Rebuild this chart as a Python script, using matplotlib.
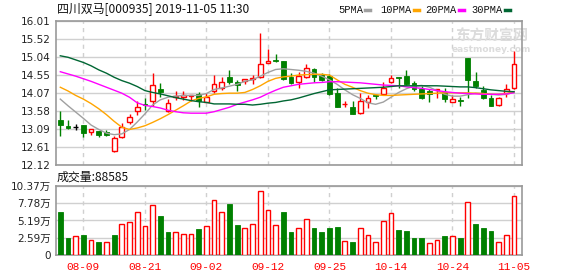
import matplotlib
matplotlib.use("Agg")
import matplotlib.pyplot as plt
import numpy as np

plt.rcParams['font.family'] = ['DejaVu Sans', 'Noto Sans CJK SC']

# trading days shown (2019-08-06 .. 2019-11-05)
dates = ['08-06', '08-07', '08-08', '08-09', '08-12', '08-13', '08-14', '08-15', '08-16', '08-19',
         '08-20', '08-21', '08-22', '08-23', '08-26', '08-27', '08-28', '08-29', '08-30',
         '09-02', '09-03', '09-04', '09-05', '09-06', '09-09', '09-10', '09-11', '09-12',
         '09-16', '09-17', '09-18', '09-19', '09-20', '09-23', '09-24', '09-25', '09-26',
         '09-27', '09-30', '10-08', '10-09', '10-10', '10-11', '10-14', '10-15', '10-16',
         '10-17', '10-18', '10-21', '10-22', '10-23', '10-24', '10-25', '10-28', '10-29',
         '10-30', '10-31', '11-01', '11-04', '11-05']
tick_dates = ['08-09', '08-21', '09-02', '09-12', '09-25', '10-14', '10-24', '11-05']

opens = [13.33, 13.18, 13.15, 13.19, 13.00, 13.05, 13.00, 12.50, 12.88, 13.28,
         13.59, 13.78, 13.85, 14.18, 13.57, 13.95, 13.97, 13.98, 14.03, 13.82,
         14.11, 14.20, 14.49, 14.36, 14.39, 14.43, 14.51, 14.88, 14.96, 14.93,
         14.51, 14.35, 14.49, 14.71, 14.57, 14.53, 14.07, 13.76, 13.68, 13.52,
         13.81, 14.00, 14.04, 14.35, 14.50, 14.52, 14.34, 14.17, 14.12, 14.14,
         14.08, 13.82, 13.87, 15.01, 14.40, 14.14, 13.94, 13.74, 14.06, 14.19]
highs = [13.58, 13.34, 13.22, 13.19, 13.09, 13.05, 13.07, 12.89, 13.25, 13.51,
         13.86, 13.92, 14.60, 14.33, 13.90, 14.12, 14.13, 14.01, 14.10, 14.07,
         14.56, 14.51, 14.69, 14.42, 14.45, 14.56, 15.68, 15.25, 15.11, 14.93,
         14.60, 14.62, 14.85, 14.75, 14.60, 14.57, 14.19, 13.85, 13.85, 14.06,
         14.01, 14.04, 14.35, 14.55, 14.50, 14.69, 14.39, 14.26, 14.17, 14.17,
         14.19, 14.00, 13.96, 15.01, 14.64, 14.26, 14.01, 13.97, 14.31, 15.20]
lows = [12.89, 13.10, 13.07, 12.88, 12.93, 12.88, 12.89, 12.46, 12.84, 13.23,
        13.47, 13.61, 13.72, 13.97, 13.54, 13.88, 13.88, 13.86, 13.68, 13.81,
        14.06, 14.15, 14.30, 14.12, 14.30, 14.30, 14.48, 14.87, 14.90, 14.42,
        14.30, 14.21, 14.46, 14.37, 14.40, 14.01, 13.70, 13.70, 13.51, 13.50,
        13.67, 13.89, 14.01, 14.33, 14.21, 14.28, 14.12, 13.89, 13.83, 13.94,
        13.81, 13.82, 13.72, 13.92, 14.21, 13.89, 13.71, 13.72, 13.97, 14.17]
closes = [13.19, 13.13, 13.15, 12.99, 13.09, 12.92, 12.93, 12.86, 13.15, 13.43,
          13.68, 13.75, 14.28, 14.10, 13.79, 13.99, 14.00, 14.01, 13.86, 13.95,
          14.30, 14.37, 14.35, 14.29, 14.44, 14.47, 14.84, 14.93, 14.94, 14.45,
          14.33, 14.52, 14.73, 14.51, 14.42, 14.03, 13.70, 13.78, 13.51, 13.84,
          13.94, 13.99, 14.19, 14.48, 14.46, 14.31, 14.16, 13.94, 14.05, 14.17,
          13.89, 13.90, 13.85, 14.41, 14.25, 13.92, 13.72, 13.94, 14.16, 14.84]

ma5 = [13.90, 13.72, 13.55, 13.38, 13.20, 13.08, 12.98, 12.94, 12.96, 13.08,
       13.28, 13.50, 13.74, 13.88, 13.95, 13.98, 14.00, 14.00, 14.00, 14.05,
       14.16, 14.20, 14.25, 14.30, 14.38, 14.42, 14.52, 14.62, 14.70, 14.72,
       14.70, 14.68, 14.65, 14.60, 14.52, 14.42, 14.30, 14.15, 14.02, 13.92,
       13.80, 13.76, 13.82, 13.95, 14.08, 14.18, 14.25, 14.27, 14.22, 14.13,
       14.03, 13.98, 13.98, 14.02, 14.06, 14.05, 14.03, 14.01, 14.03, 14.10]
ma10 = [14.22, 14.12, 14.00, 13.90, 13.78, 13.64, 13.48, 13.30, 13.14, 13.08,
        13.12, 13.18, 13.27, 13.37, 13.48, 13.60, 13.72, 13.85, 13.92, 13.96,
        14.03, 14.05, 14.06, 14.06, 14.08, 14.16, 14.26, 14.38, 14.46, 14.50,
        14.52, 14.55, 14.56, 14.57, 14.57, 14.55, 14.42, 14.30, 14.22, 14.13,
        14.06, 14.02, 14.00, 14.00, 14.01, 14.02, 14.03, 14.04, 14.05, 14.06,
        14.07, 14.07, 14.07, 14.07, 14.06, 14.05, 14.03, 14.03, 14.05, 14.10]
ma20 = [14.64, 14.58, 14.52, 14.45, 14.38, 14.30, 14.22, 14.14, 14.06, 13.95,
        13.80, 13.73, 13.70, 13.66, 13.60, 13.56, 13.53, 13.52, 13.52, 13.52,
        13.56, 13.62, 13.68, 13.76, 13.82, 13.88, 13.95, 14.05, 14.14, 14.22,
        14.26, 14.30, 14.32, 14.34, 14.35, 14.37, 14.37, 14.36, 14.35, 14.34,
        14.32, 14.30, 14.28, 14.27, 14.26, 14.23, 14.21, 14.19, 14.16, 14.13,
        14.10, 14.08, 14.06, 14.05, 14.04, 14.03, 14.03, 14.03, 14.04, 14.07]
ma30 = [15.07, 15.03, 14.96, 14.89, 14.80, 14.69, 14.60, 14.49, 14.40, 14.33,
        14.24, 14.13, 14.08, 14.04, 13.99, 13.94, 13.90, 13.86, 13.83, 13.81,
        13.77, 13.77, 13.77, 13.76, 13.76, 13.74, 13.76, 13.79, 13.81, 13.85,
        13.88, 13.93, 13.99, 14.05, 14.10, 14.15, 14.16, 14.17, 14.18, 14.19,
        14.20, 14.21, 14.22, 14.24, 14.26, 14.26, 14.26, 14.26, 14.26, 14.26,
        14.25, 14.24, 14.23, 14.23, 14.21, 14.18, 14.15, 14.13, 14.11, 14.10]

# volume in 万 (10k shares)
volumes = [6.46, 2.56, 2.80, 3.00, 2.20, 1.95, 1.90, 3.00, 4.66, 4.90,
           6.40, 4.30, 7.46, 5.86, 3.46, 3.40, 3.16, 3.16, 3.90, 4.30,
           8.20, 6.40, 7.67, 4.50, 4.00, 4.60, 9.57, 6.70, 4.46, 6.46,
           3.46, 4.00, 5.36, 4.06, 3.46, 4.06, 4.20, 2.05, 1.95, 4.00,
           2.96, 1.90, 5.06, 6.26, 3.76, 3.60, 2.56, 2.56, 1.75, 2.20,
           2.86, 2.80, 2.56, 7.90, 4.66, 4.06, 3.60, 1.90, 2.96, 8.86]
vol_up = [0, 0, 1, 0, 1, 0, 1, 0, 1, 1, 1, 1, 1, 0, 0, 1, 1, 1, 0, 1,
          1, 1, 0, 0, 1, 1, 1, 1, 1, 0, 0, 1, 1, 0, 0, 0, 0, 1, 0, 1,
          1, 1, 1, 1, 0, 0, 0, 0, 1, 1, 0, 1, 0, 1, 0, 0, 0, 1, 1, 1]

price_ticks = [12.12, 12.61, 13.09, 13.58, 14.07, 14.55, 15.04, 15.52, 16.01]
vol_ticks = [0, 2.59, 5.19, 7.78, 10.37]
vol_labels = ['0', '2.59万', '5.19万', '7.78万', '10.37万']

RED = '#ff0000'
GREEN = '#008000'
GRID = '#d0d0d0'
FRAME = '#999999'

W, H = 578, 276
fig = plt.figure(figsize=(W / 100, H / 100), dpi=100)
fig.patch.set_facecolor('white')

def box(x0, y0, x1, y1):
    return [x0 / W, 1 - y1 / H, (x1 - x0) / W, (y1 - y0) / H]

ax = fig.add_axes(box(56, 21, 522, 165))
axv = fig.add_axes(box(56, 186, 522, 255))

x = np.arange(len(dates))
xlim = (-0.56, 60.04)
tick_pos = [dates.index(d) for d in tick_dates]

for a, yt, ylim in ((ax, price_ticks, (12.12, 16.01)), (axv, vol_ticks, (0, 10.37))):
    a.set_xlim(*xlim)
    a.set_ylim(*ylim)
    a.set_yticks(yt)
    for y in yt:
        a.axhline(y, color=GRID, lw=1, zorder=0)
    for p in tick_pos:
        a.axvline(p, color=GRID, lw=1, ls=(0, (3, 3)), zorder=0)
    for s in a.spines.values():
        s.set_color(FRAME)
        s.set_linewidth(1.2)
    a.tick_params(length=0, labelsize=7.5, colors='#222222', pad=4)
    a.set_xticks(tick_pos)

ax.set_xticklabels([])
ax.set_yticklabels(['%.2f' % v for v in price_ticks])
axv.set_yticklabels(vol_labels)
axv.set_xticklabels(tick_dates, color=RED, family='Liberation Mono', fontsize=8)
axv.tick_params(axis='x', pad=5)

# watermark inside the price panel
cjk = ['Noto Sans CJK SC', 'DejaVu Sans']
ax.text(0.935, 0.9, '东方财富网', transform=ax.transAxes, family=cjk, fontsize=10.5,
        fontweight='bold', color='#dcdcdc', ha='center', va='center', zorder=1)
ax.text(0.935, 0.8, 'eastmoney.com', transform=ax.transAxes, fontsize=6.5,
        fontweight='bold', color='#dcdcdc', ha='center', va='center', zorder=1)

# candles
o = np.array(opens); c = np.array(closes)
hi = np.array(highs); lo = np.array(lows)
bw = 0.62
for i in range(len(x)):
    if c[i] > o[i]:
        col = RED
    elif c[i] < o[i]:
        col = GREEN
    else:
        col = 'black'
    ax.vlines(x[i], lo[i], hi[i], color=col, lw=1, zorder=2)
    bottom = min(o[i], c[i])
    height = max(abs(c[i] - o[i]), 0.012)
    if col == RED:
        ax.bar(x[i], height, bw, bottom=bottom, facecolor='white', edgecolor=RED, lw=1, zorder=3)
    elif col == GREEN:
        ax.bar(x[i], height, bw, bottom=bottom, facecolor=GREEN, edgecolor=GREEN, lw=0.6, zorder=3)
    else:
        ax.hlines(o[i], x[i] - bw / 2, x[i] + bw / 2, color=col, lw=1, zorder=3)

ax.plot(x, ma5, color='#a0a0a0', lw=1, zorder=4)
ax.plot(x, ma10, color='#ffa500', lw=1, zorder=4)
ax.plot(x, ma20, color='#ff00ff', lw=1, zorder=4)
ax.plot(x, ma30, color='#006633', lw=1, zorder=4)

# volume bars
for i in range(len(x)):
    if vol_up[i]:
        axv.bar(x[i], volumes[i], bw, facecolor='white', edgecolor=RED, lw=1, zorder=3)
    else:
        axv.bar(x[i], volumes[i], bw, facecolor=GREEN, edgecolor=GREEN, lw=0.6, zorder=3)

# texts
fig.text(57 / W, 1 - 10 / H, '四川双马[000935] 2019-11-05 11:30', family=cjk,
         fontsize=8.6, va='center', ha='left', color='#111111')
fig.text(57 / W, 1 - 177 / H, '成交量:88585', family=cjk,
         fontsize=8.6, va='center', ha='left', color='#111111')

legend_items = [('5PMA', '#a0a0a0', 338), ('10PMA', '#ffa500', 380),
                ('20PMA', '#ff00ff', 425), ('30PMA', '#006633', 471)]
for lab, col, px in legend_items:
    fig.text(px / W, 1 - 10 / H, lab, family='Liberation Mono', fontsize=7.5,
             va='center', ha='left', color='#111111')
    tw = len(lab) * 6.1
    fig.lines.append(plt.Line2D([(px + tw + 3) / W, (px + tw + 8) / W],
                                [1 - 10 / H, 1 - 10 / H], color=col, lw=2.5,
                                transform=fig.transFigure))

fig.savefig('out.png', dpi=100, facecolor='white')
